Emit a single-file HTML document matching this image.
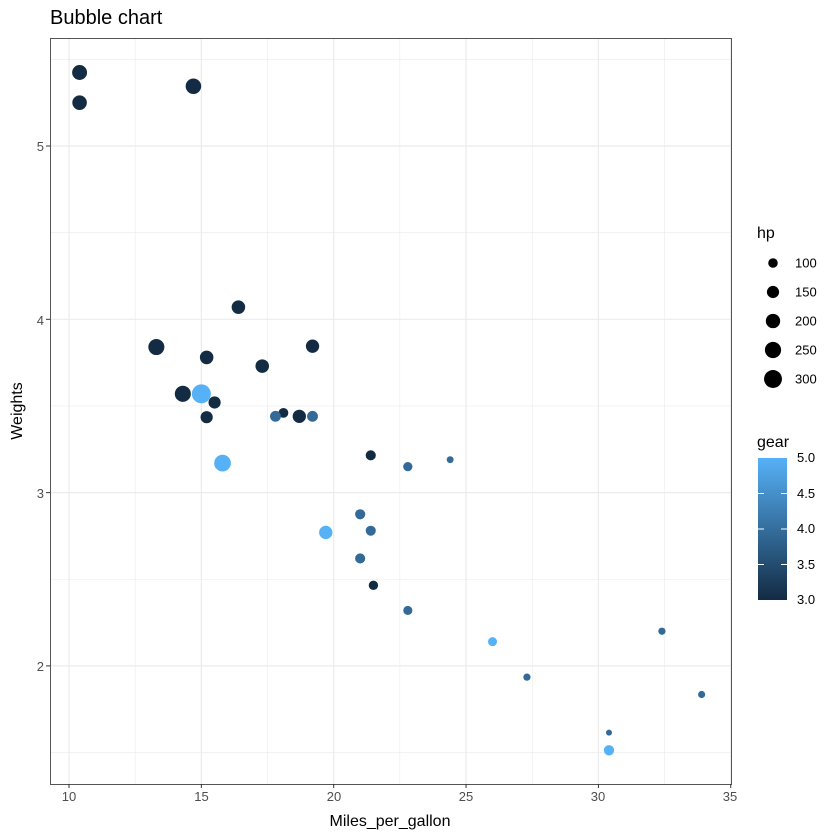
<!DOCTYPE html>
<html><head><meta charset="utf-8"><style>
html,body{margin:0;padding:0;background:#fff}
svg{display:block;font-family:"Liberation Sans",sans-serif}
</style></head><body>
<svg id="s" width="840" height="840" xmlns="http://www.w3.org/2000/svg">
<defs><linearGradient id="g" x1="0" y1="1" x2="0" y2="0">
<stop offset="0" stop-color="#132B43"/><stop offset="1" stop-color="#56B1F7"/></linearGradient></defs>
<rect x="0" y="0" width="840" height="840" fill="#fff"/>
<g id="grid"></g>
<rect x="50.5" y="38.5" width="681" height="746" fill="none" stroke="#555" stroke-width="1"/>
<g id="pts"></g>
<g font-size="13" fill="#4d4d4d" text-anchor="middle">
<text x="69" y="801">10</text><text x="201.5" y="801">15</text><text x="334" y="801">20</text><text x="466" y="801">25</text><text x="598" y="801">30</text><text x="730" y="801">35</text>
</g>
<g font-size="13" fill="#4d4d4d" text-anchor="end">
<text x="44" y="151">5</text><text x="44" y="325">4</text><text x="44" y="498">3</text><text x="44" y="671">2</text>
</g>
<text x="390" y="826" font-size="16" text-anchor="middle">Miles_per_gallon</text>
<text transform="translate(22,411) rotate(-90)" font-size="16" text-anchor="middle">Weights</text>
<text x="50" y="24" font-size="20">Bubble chart</text>
<text x="757" y="238" font-size="16">hp</text>
<g id="leg"></g>
<text x="757" y="447" font-size="16">gear</text>
<rect x="758" y="458" width="29" height="142" fill="url(#g)"/>
<g stroke="#fff" stroke-width="1">
<line x1="758" y1="493.5" x2="764" y2="493.5"/><line x1="781" y1="493.5" x2="787" y2="493.5"/>
<line x1="758" y1="529" x2="764" y2="529"/><line x1="781" y1="529" x2="787" y2="529"/>
<line x1="758" y1="564.5" x2="764" y2="564.5"/><line x1="781" y1="564.5" x2="787" y2="564.5"/>
</g>
<g font-size="13" fill="#000">
<text x="797" y="462">5.0</text><text x="797" y="498">4.5</text><text x="797" y="533">4.0</text><text x="797" y="569">3.5</text><text x="797" y="604">3.0</text>
</g>
</svg>
<script>
var NS="http://www.w3.org/2000/svg";
function el(p,t,a){var e=document.createElementNS(NS,t);for(var k in a)e.setAttribute(k,a[k]);p.appendChild(e);return e;}
function X(m){return 69+(m-10)*26.47;}
function Y(w){return 146+(5-w)*173.3;}
function R(h){return Math.sqrt(Math.max(1,-5.9+0.287*h));}
var g=document.getElementById("grid");
[5.5,4.5,3.5,2.5,1.5].forEach(function(v){el(g,"line",{x1:50,x2:731,y1:Y(v),y2:Y(v),stroke:"#ebebeb","stroke-width":0.6});});
[12.5,17.5,22.5,27.5,32.5].forEach(function(v){el(g,"line",{y1:38,y2:784,x1:X(v),x2:X(v),stroke:"#ebebeb","stroke-width":0.6});});
[5,4,3,2].forEach(function(v){el(g,"line",{x1:50,x2:731,y1:Y(v),y2:Y(v),stroke:"#ebebeb","stroke-width":1.2});});
[10,15,20,25,30,35].forEach(function(v){el(g,"line",{y1:38,y2:784,x1:X(v),x2:X(v),stroke:"#ebebeb","stroke-width":1.2});});
var tk=document.getElementById("pts").parentNode;
[5,4,3,2].forEach(function(v){el(tk,"line",{x1:46,x2:50,y1:Y(v),y2:Y(v),stroke:"#333"});});
[10,15,20,25,30,35].forEach(function(v){el(tk,"line",{y1:784,y2:788,x1:X(v),x2:X(v),stroke:"#333"});});
var d=[[21,2.62,110,4],[21,2.875,110,4],[22.8,2.32,93,4],[21.4,3.215,110,3],[18.7,3.44,175,3],[18.1,3.46,105,3],[14.3,3.57,245,3],[24.4,3.19,62,4],[22.8,3.15,95,4],[19.2,3.44,123,4],[17.8,3.44,123,4],[16.4,4.07,180,3],[17.3,3.73,180,3],[15.2,3.78,180,3],[10.4,5.25,205,3],[10.4,5.424,215,3],[14.7,5.345,230,3],[32.4,2.2,66,4],[30.4,1.615,52,4],[33.9,1.835,65,4],[21.5,2.465,97,3],[15.5,3.52,150,3],[15.2,3.435,150,3],[13.3,3.84,245,3],[19.2,3.845,175,3],[27.3,1.935,66,4],[26,2.14,91,5],[30.4,1.513,113,5],[15.8,3.17,264,5],[19.7,2.77,175,5],[15,3.57,335,5],[21.4,2.78,109,4]];
var C={3:"#132B43",4:"#336A98",5:"#56B1F7"};
var p=document.getElementById("pts");
d.forEach(function(r){el(p,"circle",{cx:X(r[0]),cy:Y(r[1]),r:R(r[2]),fill:C[r[3]]});});
var l=document.getElementById("leg");
[100,150,200,250,300].forEach(function(h,i){var y=263+i*29;el(l,"circle",{cx:773,cy:y,r:R(h),fill:"#000"});var t=el(l,"text",{x:795,y:y+4.5,"font-size":13});t.textContent=h;});
</script>
</body></html>
